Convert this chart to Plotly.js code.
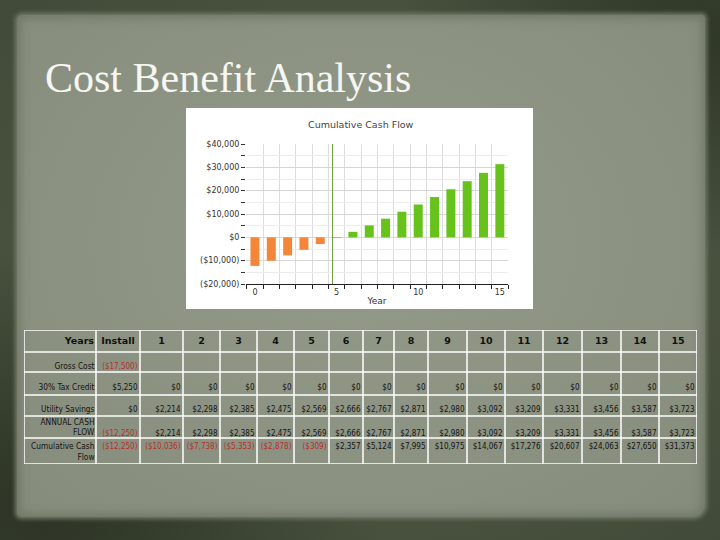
<!DOCTYPE html>
<html>
<head>
<meta charset="utf-8">
<script src="https://cdn.plot.ly/plotly-3.0.1.min.js"></script>
<style>
  html, body { margin:0; padding:0; width:720px; height:540px; overflow:hidden; }
  body { background:#3f4737; position:relative; }
  #frame { position:absolute; left:0; top:0; width:720px; height:540px;
    background:
      radial-gradient(ellipse at 8% 92%, rgba(28,34,22,0.6), rgba(0,0,0,0) 35%),
      radial-gradient(ellipse at 96% 8%, rgba(28,34,22,0.5), rgba(0,0,0,0) 30%),
      radial-gradient(ellipse at 50% 50%, #566048 0%, #414a38 100%); }
  #paper { position:absolute; left:17px; top:15px; width:688px; height:502px;
    background: radial-gradient(ellipse at 50% 45%, #949a8a 0%, #8c9282 60%, #868c7c 100%);
    border-radius:5px 3px 12px 4px;
    box-shadow: 0 0 4px 2px #737a69, inset 0 0 10px 3px rgba(90,98,80,0.5); }
  #plot { position:absolute; left:0; top:0; width:720px; height:540px; }
</style>
</head>
<body>
<div id="frame"></div>
<div id="paper"></div>
<div id="plot"></div>
<script>
// ---- data ----
var chartYears = [0,1,2,3,4,5,6,7,8,9,10,11,12,13,14,15];
var tableYears = ["Install","1","2","3","4","5","6","7","8","9","10","11","12","13","14","15"];
var rowLabels = ["Gross Cost","30% Tax Credit","Utility Savings","ANNUAL CASH<br>FLOW","Cumulative Cash<br>Flow"];
var grossCost = [-17500,null,null,null,null,null,null,null,null,null,null,null,null,null,null,null];
var taxCredit = [5250,0,0,0,0,0,0,0,0,0,0,0,0,0,0,0];
var utilitySavings = [0,2214,2298,2385,2475,2569,2666,2767,2871,2980,3092,3209,3331,3456,3587,3723];
var annualCashFlow = [-12250,2214,2298,2385,2475,2569,2666,2767,2871,2980,3092,3209,3331,3456,3587,3723];
var cumulativeCashFlow = [-12250,-10036,-7738,-5353,-2878,-309,2357,5124,7995,10975,14067,17276,20607,24063,27650,31373];
var yTickVals = [-20000,-10000,0,10000,20000,30000,40000];
var xTickVals = [0,5,10,15];
var paybackMarker = 4.75;

// ---- table styling (pixel sizes) ----
var colWidths = [72,44,43,37,37,37,35,34,31,34,39,38,38,39,39,38,38];
var headerHeight = 22;
var rowHeights = [20,23,21,22,26];
var labelOffsets = [15,16,15,12,14.5];   // vertical centre of label text from row top
var valueOffsets = [15,16,15,18,9];      // vertical centre of value text from row top

function fmt(v){
  if (v === null || v === undefined) return "";
  var s = String(Math.abs(v)).replace(/\B(?=(\d{3})+(?!\d))/g, ",");
  return v < 0 ? "($" + s + ")" : "$" + s;
}

var ORANGE = "#f4863a", GREEN = "#67c21b", RED = "#b3302c", INK = "#141414";

// ---- bar chart ----
var bars = {
  type: "bar", x: chartYears, y: cumulativeCashFlow,
  marker: { color: cumulativeCashFlow.map(function(v){ return v < 0 ? ORANGE : GREEN; }) },
  width: 0.55, xaxis: "x", yaxis: "y", hoverinfo: "none"
};

// ---- table geometry ----
var colEdges = [0];
colWidths.forEach(function(w){ colEdges.push(colEdges[colEdges.length-1] + w); });
var rowEdges = [0, headerHeight];
rowHeights.forEach(function(h){ rowEdges.push(rowEdges[rowEdges.length-1] + h); });
var tableW = colEdges[colEdges.length-1], tableH = rowEdges[rowEdges.length-1];

var rows = [grossCost, taxCredit, utilitySavings, annualCashFlow, cumulativeCashFlow];

// header
var hx = [], hy = [], ht = [], hp = [];
["Years"].concat(tableYears).forEach(function(t, c){
  if (c === 0) { hx.push(colEdges[1] - 2); hp.push("middle left"); }
  else { hx.push((colEdges[c] + colEdges[c+1]) / 2); hp.push("middle center"); }
  hy.push(12); ht.push("<b>" + t + "</b>");
});
var headerTrace = { type: "scatter", mode: "text", x: hx, y: hy, text: ht, textposition: hp,
  xaxis: "x2", yaxis: "y2", cliponaxis: false, hoverinfo: "none",
  textfont: { family: "DejaVu Sans", size: 9.5, color: "#111" } };

// labels
var lx = [], ly = [];
rowLabels.forEach(function(t, r){ lx.push(colEdges[1] - 1.5); ly.push(rowEdges[r+1] + labelOffsets[r]); });
var labelTrace = { type: "scatter", mode: "text", x: lx, y: ly, text: rowLabels, textposition: "middle left",
  xaxis: "x2", yaxis: "y2", cliponaxis: false, hoverinfo: "none",
  textfont: { family: "DejaVu Sans Condensed, DejaVu Sans", size: 8.3, color: INK } };

// values
var vx = [], vy = [], vt = [], vc = [];
rows.forEach(function(row, r){
  row.forEach(function(v, c){
    if (v === null) return;
    vx.push(colEdges[c+2] - 2.5);
    vy.push(rowEdges[r+1] + valueOffsets[r]);
    vt.push(fmt(v));
    vc.push(v < 0 ? RED : INK);
  });
});
var valueTrace = { type: "scatter", mode: "text", x: vx, y: vy, text: vt, textposition: "middle left",
  xaxis: "x2", yaxis: "y2", cliponaxis: false, hoverinfo: "none",
  textfont: { family: "DejaVu Sans Condensed, DejaVu Sans", size: 8, color: vc } };

// grid lines of the table
var tableShapes = [];
colEdges.forEach(function(x){
  tableShapes.push({ type: "line", xref: "x2", yref: "y2", x0: x, x1: x, y0: 0, y1: tableH,
    line: { color: "#ffffff", width: 1.5 } });
});
rowEdges.forEach(function(y){
  tableShapes.push({ type: "line", xref: "x2", yref: "y2", x0: 0, x1: tableW, y0: y, y1: y,
    line: { color: "#ffffff", width: 1.5 } });
});

var layout = {
  width: 720, height: 540,
  margin: { l: 0, r: 0, t: 0, b: 0 },
  paper_bgcolor: "rgba(0,0,0,0)",
  plot_bgcolor: "rgba(0,0,0,0)",
  showlegend: false,
  xaxis: {
    domain: [246/720, 508/720], range: [-0.55, 15.5],
    tickmode: "array", tickvals: xTickVals, ticks: "",
    showgrid: false, zeroline: false,
    showline: true, linecolor: "#222", linewidth: 1,
    tickfont: { family: "DejaVu Sans", size: 8, color: "#333" },
    title: { text: "Year", font: { family: "DejaVu Sans", size: 9, color: "#333" }, standoff: 2 },
    minor: { tick0: 0.5, dtick: 1, ticks: "outside", ticklen: 4, tickcolor: "#222", showgrid: true, gridcolor: "#dcdcdc", gridwidth: 1 },
    fixedrange: true
  },
  yaxis: {
    domain: [1 - 284/540, 1 - 144/540], range: [-20000, 40000],
    tickmode: "array", tickvals: yTickVals, ticktext: yTickVals.map(fmt),
    ticks: "outside", ticklen: 4, tickcolor: "#333",
    showgrid: true, gridcolor: "#d6d6d6", zeroline: false, showline: false,
    tickfont: { family: "DejaVu Sans", size: 8, color: "#333" },
    minor: { dtick: 5000, ticks: "outside", ticklen: 4, tickcolor: "#333", showgrid: true, gridcolor: "#ededed" },
    fixedrange: true
  },
  xaxis2: { domain: [24/720, (24 + tableW)/720], range: [0, tableW], visible: false, fixedrange: true, anchor: "y2" },
  yaxis2: { domain: [1 - (330 + tableH)/540, 1 - 330/540], range: [tableH, 0], visible: false, fixedrange: true, anchor: "x2" },
  shapes: [
    { type: "rect", xref: "paper", yref: "paper", layer: "below",
      x0: 186/720, x1: 533/720, y0: 1 - 309/540, y1: 1 - 108/540,
      fillcolor: "#ffffff", line: { width: 0 } },
    { type: "line", xref: "x", yref: "y domain", x0: paybackMarker, x1: paybackMarker, y0: 0, y1: 1,
      line: { color: "#6f9e3c", width: 1 } }
  ].concat(tableShapes),
  annotations: [
    { text: "Cost Benefit Analysis", xref: "paper", yref: "paper", x: 43/720, y: 1 - 78/540,
      xanchor: "left", yanchor: "middle", showarrow: false,
      font: { family: "Liberation Serif", size: 42, color: "#f6f6f2" } },
    { text: "Cumulative Cash Flow", xref: "paper", yref: "paper", x: 361/720, y: 1 - 124/540,
      xanchor: "center", yanchor: "middle", showarrow: false,
      font: { family: "DejaVu Sans", size: 9.5, color: "#444" } }
  ]
};

Plotly.newPlot("plot", [bars, headerTrace, labelTrace, valueTrace], layout, { staticPlot: true, displayModeBar: false });
</script>
</body>
</html>
